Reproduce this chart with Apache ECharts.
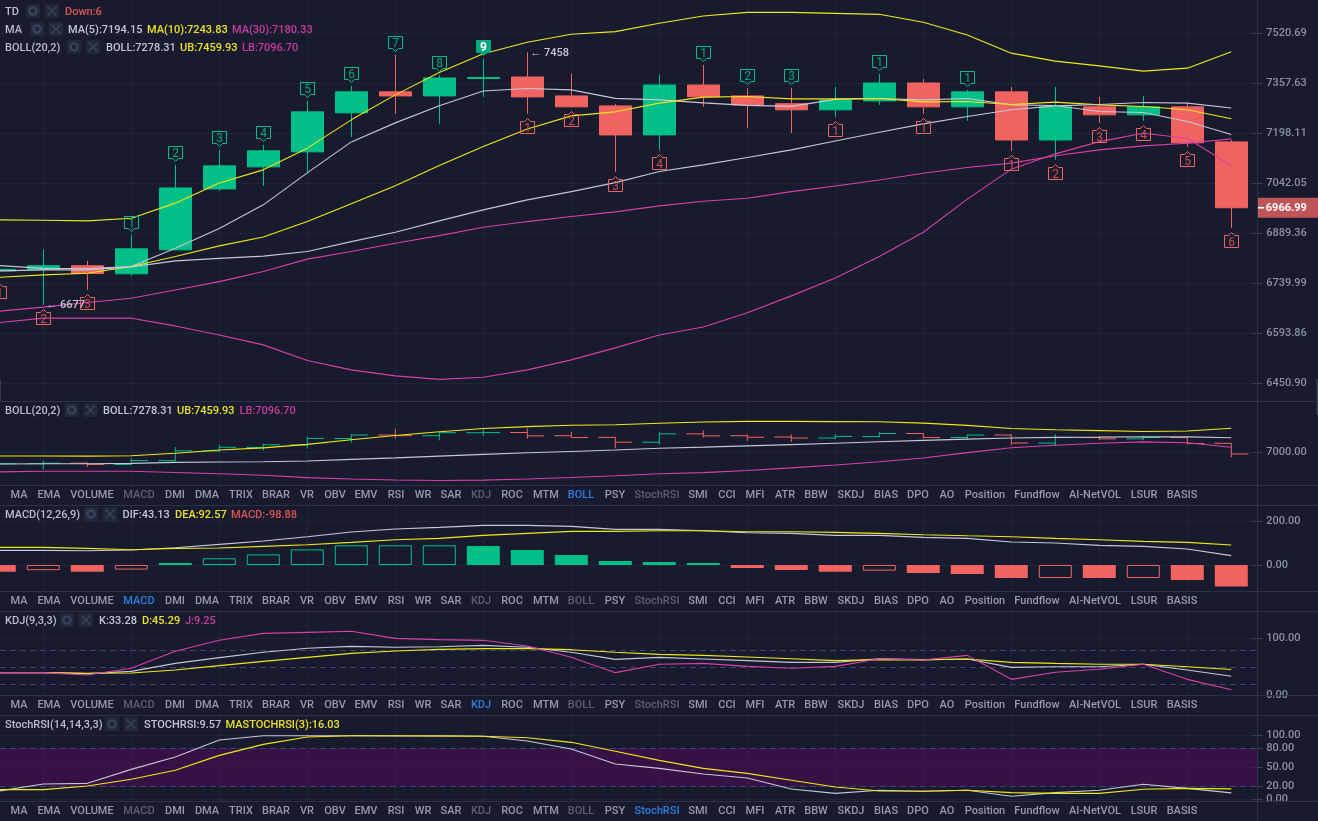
<!DOCTYPE html>
<html><head><meta charset="utf-8">
<style>html,body{margin:0;padding:0;background:#171b2d;overflow:hidden}#c{width:1318px;height:821px}</style>
<script src="https://cdn.jsdelivr.net/npm/echarts@6/dist/echarts.min.js"></script>
</head><body><div id="c"></div>
<script>
// ---------- data (index 0 is the candle cut off at the left edge) ----------
const opens  = [6776.8,6781,6792,6768,6839.5,7024.6,7092.9,7139.7,7262.9,7330,7317,7373,7378,7317,7285,7193,7352,7317,7292,7272.5,7301,7358.6,7282,7330,7177,7282,7256.5,7282,7171];
const closes = [6781.2,6792,6769,6842.5,7027.7,7096,7142.9,7266,7330,7317,7374.9,7376.5,7313.9,7282,7192.8,7352,7314,7288,7272.5,7304,7358.6,7282,7330,7177,7282,7256.5,7282,7168,6966.99];
const lows   = [6752.9,6677,6720.4,6761.8,6838,7018.5,7033.8,7074.2,7186.6,7259.7,7227.8,7313.9,7259.7,7282,7077.4,7146,7282,7214.6,7199,7250.1,7288.4,7259.7,7237.4,7142.9,7114.8,7231,7237.4,7155.4,6905.7];
const highs  = [6804,6839.5,6806.6,6884.3,7099.2,7146,7161.6,7301.2,7349,7449.9,7384.7,7436.9,7458,7388,7291.6,7384.7,7417.3,7342.6,7342.6,7345.8,7388,7371.7,7336.3,7345.8,7345.8,7313.9,7317.1,7294.8,7177.2];
const ma5    = [6792.6,6784.2,6783.6,6789.6,6844,6904,6975.8,7074.2,7171,7231,7285.2,7333,7341,7336.3,7309.1,7304.4,7294.8,7286.8,7283.6,7306,7308.5,7304.4,7308.5,7288.4,7286.2,7267,7263.9,7235.1,7194.15];
const ma10   = [6757.9,6764.8,6769.9,6789.6,6819.5,6851.4,6878.3,6924.8,6978.8,7034.7,7097,7156.3,7211.8,7253.3,7266.1,7293.8,7313,7314.9,7307.5,7307.5,7308.5,7298,7298.9,7289.4,7297,7288.4,7283,7272.5,7243.83];
const ma30   = [6658.1,6669.8,6683.3,6696.1,6720.4,6744.8,6774.7,6811.7,6834.4,6859.5,6882.2,6907.7,6924.8,6940,6954.4,6972.7,6987,6996.2,7016.4,7033.8,7052.4,7073.3,7090.7,7104.5,7127.3,7146,7158.5,7166.9,7180.33];
const bollMid= [6776.8,6779.7,6779.7,6788.7,6806.6,6814,6820.7,6834.4,6864.3,6892.4,6926.9,6960.5,6991,7016.4,7044,7078.3,7099.2,7122,7146,7174,7201.3,7227.8,7251.1,7272.5,7285.2,7289.4,7295.8,7293.8,7278.31];
const bollUp = [6930,6929,6926.9,6935.1,6981,7042.9,7083.6,7151.3,7240.6,7320.3,7392.2,7453.2,7491.3,7517.4,7526,7553.7,7577.8,7590,7590,7586.7,7583.4,7557,7515.1,7455.5,7429.4,7414.1,7396.8,7406.6,7459.93];
const bollLow= [6624.8,6637.7,6637.7,6637.7,6615.2,6589,6560.4,6515.6,6488.9,6471.8,6462,6468,6488.9,6517.5,6551.8,6589,6612.2,6653.2,6702.9,6755.8,6819.5,6892.4,6993.2,7085.8,7133.5,7171.9,7198.11,7182.5,7096.7];
const tdUp   = [null,null,null,1,2,3,4,5,6,7,8,9,null,null,null,null,1,2,3,null,1,null,1,null,null,null,null,null,null];
const tdDown = [1,2,3,null,null,null,null,null,null,null,null,null,1,2,3,4,null,null,null,1,null,1,null,1,2,3,4,5,6];
const extremes = [[1,6677],[12,7458]];
const lastPrice = 6966.99;
const macdHist = [-30.8,-24,-31,-21,9,31,49,72,91,91,91,88,69,46,18,14,9,-14,-23,-31,-26,-37,-41.5,-60,-60,-60,-60,-69,-98.88];
const macdHollow=[0,1,0,1,0,1,1,1,1,1,1,0,0,0,0,0,0,0,0,0,1,0,0,0,1,0,1,0,0];
const macdDif = [67.7,67.7,66.1,69.2,80,95.4,110.7,130.7,152.3,166.1,173.8,183,183,178.4,164.6,164.6,158.4,149.2,146.1,136.9,136.9,127.7,123,106.1,101.5,90.7,86.1,73.8,43.13];
const macdDea = [81.5,81.5,76.9,70.7,76.9,78.4,86.1,93.8,104.6,116.9,123,136.9,146.1,155.3,155.3,158.4,158.4,153.8,153.8,150.7,146.1,140,135.3,130.7,123,116.9,109.2,104.6,92.57];
const kdjK = [39.7,39.7,37.9,42,56.2,66.3,75.8,82.9,86.4,84.7,85.8,88.2,84.7,75.8,63.3,66.9,63.9,61,58,58,64.5,62.8,63.9,49.1,50.3,50.3,54.5,44.4,33.28];
const kdjD = [39.7,39.7,38.5,39.1,44.4,52.1,59.8,66.9,74,78.1,81.1,82.3,82.3,80.5,75.8,72.2,70.4,67.5,64.5,61,62.8,62.2,63.9,58,56.2,54.5,54.5,50.3,45.29];
const kdjJ = [39.7,39.7,35.5,47.4,77.6,97.1,109.5,111.3,113.1,100.6,98.3,97.1,87,66.9,39.7,54.5,56.2,50.9,47.4,50.9,64.5,62.2,70.4,27.8,40.3,45.6,54.5,27.8,9.25];
const stochK = [12.6,23.7,24.7,46.8,66.3,93.2,100,100,100,99.5,100,99,91.6,78.9,55.3,48.4,39.5,33.2,15.8,8.9,13.7,12.1,13.7,4.2,10,13.7,23.2,16.8,9.57];
const stochD = [14.7,14.7,20.5,31.1,45.3,68.9,86.3,97.9,100,100,99.5,99,96.8,89.5,75.3,61,48.4,40.5,29.5,18.9,12.6,12.1,13.7,10,8.9,8.9,15.3,16.8,16.03];
const mainTicks = [7520.69,7357.63,7198.11,7042.05,6889.36,6739.99,6593.86,6450.90];
const bollTicks = [7000];
const macdTicks = [200,0];
const kdjTicks = [100,0];
const stochTicks = [100,80,50,20,0];
const kdjLevels = [80,50,20];
const stochLevels = [80,20];
const stochBand = [20,80];
const tabNames = ['MA','EMA','VOLUME','MACD','DMI','DMA','TRIX','BRAR','VR','OBV','EMV','RSI','WR','SAR','KDJ','ROC','MTM','BOLL','PSY','StochRSI','SMI','CCI','MFI','ATR','BBW','SKDJ','BIAS','DPO','AO','Position','Fundflow','AI-NetVOL','LSUR','BASIS'];
const categories = opens.map((_,i)=>String(i));

// ---------- styling ----------
const FONT='Roboto, sans-serif', BG='#171b2d', GRID='#20253a', LINE='#2b3147', TICK='#3b4259';
const GREEN='#00c087', RED='#f16361', WHITE='#c3c7d6', YELLOW='#f2e614', MAGENTA='#d93fa8';
const TXT='#b9bdcc', AXT='#8a8fa3', DIM='#5b6074', BLUE='#2f7de1';
const FS=11;
const ln=Math.log, L=a=>a.map(ln);

const gridsDef=[[0,401],[402,83],[505,86],[611.5,83.5],[715.5,85.5]];
const grid=gridsDef.map(([top,height])=>({left:-22.7,width:1276,top,height,show:false,outerBoundsMode:'none'}));
const xAxis=gridsDef.map((_,i)=>({type:'category',gridIndex:i,data:categories,boundaryGap:true,
  axisLine:{show:false},axisTick:{show:false},axisLabel:{show:false},
  splitLine:{show:true,alignWithLabel:true,interval:(idx)=>idx%2===1,lineStyle:{color:GRID,width:1}}}));
function yAx(i,min,max,ticks,fmt){return {type:'value',gridIndex:i,position:'right',min,max,scale:true,
  axisLine:{show:false},
  axisTick:{show:true,length:9,customValues:ticks,lineStyle:{color:TICK}},
  axisLabel:{show:true,customValues:ticks,margin:13,color:AXT,fontSize:FS,fontWeight:500,fontFamily:FONT,padding:[2,0,0,0],formatter:fmt},
  splitLine:{show:true,lineStyle:{color:GRID,width:1}}};}
const fx=v=>Number(v).toFixed(2), fe=v=>Math.exp(v).toFixed(2);
const yAxis=[
  yAx(0,ln(6401),ln(7631.2),L(mainTicks),fe),
  yAx(1,6375,7961,bollTicks,fx),
  yAx(2,-120,277,macdTicks,fx),
  yAx(3,0,148.3,kdjTicks,fx),
  yAx(4,-3.2,131.9,stochTicks,fx)];

const line=(name,data,color,g)=>({type:'line',name,data,xAxisIndex:g,yAxisIndex:g,symbol:'none',smooth:false,
  lineStyle:{color,width:1.1},silent:true,animation:false,z:4});

// OHLC bars in the BOLL sub-panel
const ohlcData=opens.map((o,i)=>[i,o,closes[i],lows[i],highs[i]]);
function renderOHLC(p,api){
  const i=api.value(0),o=api.value(1),c=api.value(2),l=api.value(3),h=api.value(4);
  const col=c>=o?GREEN:RED, a=api.coord([i,o]),b=api.coord([i,c]),t=api.coord([i,h]),u=api.coord([i,l]);
  const st={stroke:col,lineWidth:1,fill:'none'};
  return {type:'group',children:[
    {type:'line',shape:{x1:t[0],y1:t[1],x2:u[0],y2:u[1]},style:st},
    {type:'line',shape:{x1:a[0]-17,y1:a[1],x2:a[0],y2:a[1]},style:st},
    {type:'line',shape:{x1:b[0],y1:b[1],x2:b[0]+17,y2:b[1]},style:st}]};
}
// TD sequential tags
function tagItem(up){return function(p,api){
  const i=api.value(0),n=api.value(2),c=api.coord([i,ln(api.value(1))]),x=Math.round(c[0])+0.5,y=Math.round(c[1])+0.5;
  const s=up?-1:1,col=up?GREEN:RED,filled=up&&n===9;
  const pts=[[x-7,y+s*19],[x+7,y+s*19],[x+7,y+s*7],[x+3,y+s*7],[x,y+s*4],[x-3,y+s*7],[x-7,y+s*7]];
  return {type:'group',children:[
    {type:'polygon',shape:{points:pts},style:{fill:filled?'#00a97c':'none',stroke:filled?'#00a97c':col,lineWidth:1}},
    {type:'text',x:x,y:y+s*13+1,style:{text:String(n),fill:filled?'#fff':(up?'#00a87a':'#c9504f'),font:(filled?'bold ':'')+'12px '+FONT,textAlign:'center',textVerticalAlign:'middle'}}]};
};}
const upTags=[],downTags=[];
tdUp.forEach((n,i)=>{if(n!=null)upTags.push([i,highs[i],n]);});
tdDown.forEach((n,i)=>{if(n!=null)downTags.push([i,lows[i],n]);});

// Histogram
const histData=macdHist.map((v,i)=>{const col=v>=0?GREEN:RED;
  return {value:v,itemStyle:macdHollow[i]?{color:'rgba(0,0,0,0)',borderColor:col,borderWidth:1}:{color:col}};});

// Levels and bands that run up to the axis line
function renderLevel(p,api){const c=api.coord([0,api.value(1)]);const y=Math.round(c[1])+0.5;
  return {type:'line',shape:{x1:0,y1:y,x2:1257,y2:y},style:{stroke:'#3d4270',lineWidth:1,lineDash:[6,4],fill:'none'},z2:1};}
function renderBand(p,api){const a=api.coord([0,api.value(1)]),b=api.coord([0,api.value(2)]);
  return {type:'rect',shape:{x:0,y:b[1],width:1257,height:a[1]-b[1]},style:{fill:'rgba(82,10,92,0.52)'}};}

const series=[
  {type:'custom',name:'zone',renderItem:renderBand,data:[[0,stochBand[0],stochBand[1]]],encode:{x:0,y:1},xAxisIndex:4,yAxisIndex:4,silent:true,z:1,clip:false},
  {type:'custom',name:'kdjLv',renderItem:renderLevel,data:kdjLevels.map(v=>[0,v]),encode:{x:0,y:1},xAxisIndex:3,yAxisIndex:3,silent:true,z:1,clip:false},
  {type:'custom',name:'srLv',renderItem:renderLevel,data:stochLevels.map(v=>[0,v]),encode:{x:0,y:1},xAxisIndex:4,yAxisIndex:4,silent:true,z:1,clip:false},
  {type:'candlestick',name:'price',xAxisIndex:0,yAxisIndex:0,barWidth:33,silent:true,z:2,
   data:opens.map((o,i)=>[ln(o),ln(closes[i]),ln(lows[i]),ln(highs[i])]),
   itemStyle:{color:GREEN,color0:RED,borderColor:GREEN,borderColor0:RED,borderWidth:1},
   markPoint:{silent:true,animation:false,data:[
     {coord:[categories[28],ln(lastPrice)],symbol:'rect',symbolSize:[61,20],symbolOffset:[57,0],
      itemStyle:{color:'#bf5558'},label:{show:true,position:'inside',offset:[-2,1],formatter:lastPrice.toFixed(2),color:'#fff',fontWeight:'bold',fontSize:FS,fontFamily:FONT}},
     {coord:[categories[28],ln(lastPrice)],symbol:'rect',symbolSize:[7,1.6],symbolOffset:[29.5,0],itemStyle:{color:'#fff'},label:{show:false}},
     ...extremes.map(([i,v])=>({coord:[categories[i],ln(v)],symbol:'circle',symbolSize:0,
       label:{show:true,position:'right',distance:3,offset:[0,1],formatter:'\u2190 '+v,color:'#c3c7d6',fontSize:FS,fontWeight:500,fontFamily:FONT}}))
   ]}},
  line('MA5',L(ma5),WHITE,0),line('MA10',L(ma10),YELLOW,0),line('MA30',L(ma30),MAGENTA,0),
  line('BOLL',L(bollMid),WHITE,0),line('UB',L(bollUp),YELLOW,0),line('LB',L(bollLow),MAGENTA,0),
  {type:'custom',name:'tdUp',renderItem:tagItem(true),data:upTags,encode:{x:0,y:1},xAxisIndex:0,yAxisIndex:0,silent:true,z:6},
  {type:'custom',name:'tdDown',renderItem:tagItem(false),data:downTags,encode:{x:0,y:1},xAxisIndex:0,yAxisIndex:0,silent:true,z:6},
  {type:'custom',name:'ohlc',renderItem:renderOHLC,data:ohlcData,encode:{x:0,y:[1,2,3,4]},xAxisIndex:1,yAxisIndex:1,silent:true,z:2},
  line('BOLL2',bollMid,WHITE,1),line('UB2',bollUp,YELLOW,1),line('LB2',bollLow,MAGENTA,1),
  {type:'bar',name:'MACD',data:histData,xAxisIndex:2,yAxisIndex:2,barWidth:33,silent:true,z:2},
  line('DIF',macdDif,WHITE,2),line('DEA',macdDea,YELLOW,2),
  line('K',kdjK,WHITE,3),line('D',kdjD,YELLOW,3),line('J',kdjJ,MAGENTA,3),
  line('STOCH',stochK,WHITE,4),line('MASTOCH',stochD,YELLOW,4)
];

// ---------- chrome: separators, headers, tabs ----------
const g=[];
const hl=y=>g.push({type:'line',shape:{x1:0,y1:y,x2:1318,y2:y},style:{stroke:LINE,lineWidth:1},z:10,silent:true});
[401.5,485.5,505.5,591.5,611.5,695.5,715.5,801.5].forEach(hl);
g.push({type:'line',shape:{x1:1257.5,y1:0,x2:1257.5,y2:821},style:{stroke:LINE,lineWidth:1},z:10,silent:true});
g.push({type:'rect',shape:{x:1316.5,y:379,width:1.5,height:36},style:{fill:'#3a415c'},z:10,silent:true});
g.push({type:'rect',shape:{x:0,y:380,width:1,height:21},style:{fill:'#343b55'},z:10,silent:true});
const txt=(x,y,t,c,extra)=>g.push({type:'text',x,y:y+1,z:12,silent:true,style:Object.assign({text:t,fill:c,font:'500 '+FS+'px '+FONT,textVerticalAlign:'middle'},extra||{})});
function icons(xg,xx,y){
  [xg,xx].forEach(x=>g.push({type:'rect',shape:{x:x-7,y:y-7,width:14,height:14,r:1},style:{fill:'#232839'},z:11,silent:true}));
  g.push({type:'circle',shape:{cx:xg,cy:y,r:3.6},style:{fill:'none',stroke:'#39405a',lineWidth:2.4},z:12,silent:true});
  g.push({type:'line',shape:{x1:xx-4.5,y1:y-4.5,x2:xx+4.5,y2:y+4.5},style:{stroke:'#39405a',lineWidth:1.6},z:12,silent:true});
  g.push({type:'line',shape:{x1:xx-4.5,y1:y+4.5,x2:xx+4.5,y2:y-4.5},style:{stroke:'#39405a',lineWidth:1.6},z:12,silent:true});
}
const LEG='#c0c4d2', LY='#ebe02a', LM='#c93c9f', LR='#df5653';
function header(y,title,xg,xx,items){txt(5,y,title,TXT);icons(xg,xx,y);items.forEach(([x,t,c])=>txt(x,y,t,c));}
header(11,'TD',33,52,[[65,'Down:6',LR]]);
header(29,'MA',37,56,[[68,'MA(5):7194.15',LEG],[147,'MA(10):7243.83',LY],[232,'MA(30):7180.33',LM]]);
header(47,'BOLL(20,2)',74,93,[[106,'BOLL:7278.31',LEG],[180,'UB:7459.93',LY],[242,'LB:7096.70',LM]]);
header(410,'BOLL(20,2)',71.5,90.5,[[103,'BOLL:7278.31',LEG],[177,'UB:7459.93',LY],[239.5,'LB:7096.70',LM]]);
header(514,'MACD(12,26,9)',91,110,[[122.5,'DIF:43.13',LEG],[175,'DEA:92.57',LY],[231,'MACD:-98.88',LR]]);
header(620,'KDJ(9,3,3)',67,86,[[99,'K:33.28',LEG],[142,'D:45.29',LY],[185,'J:9.25',LM]]);
header(724,'StochRSI(14,14,3,3)',112,131,[[144,'STOCHRSI:9.57',LEG],[225.5,'MASTOCHRSI(3):16.03',LY]]);
const tabX=[19,49,92,139,175,207,241,276,307,335,366,396,423,451,481,512,546,581,615,657,698,727,755,785,816,851,886,918,947,985,1037,1095,1144,1182];
const dimAll=['MACD','KDJ','BOLL','StochRSI'];
[[494,'BOLL'],[600,'MACD'],[704,'KDJ'],[810,'StochRSI']].forEach(([y,active])=>{
  tabNames.forEach((t,i)=>{const c=t===active?BLUE:(dimAll.includes(t)?DIM:'#9599ab');txt(tabX[i],y,t,c,{textAlign:'center'});});
});

const chart=echarts.init(document.getElementById('c'),null,{renderer:'canvas'});
chart.setOption({backgroundColor:BG,animation:false,grid,xAxis,yAxis,series,graphic:{elements:g},tooltip:{show:false}});
</script></body></html>
